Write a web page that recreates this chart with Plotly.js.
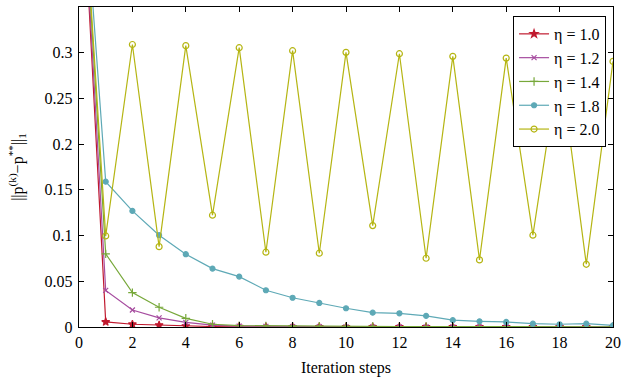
<!DOCTYPE html>
<html>
<head>
<meta charset="utf-8">
<script src="https://cdn.plot.ly/plotly-3.0.1.min.js"></script>
<style>
html,body{margin:0;padding:0;background:#fff;}
#chart{width:624px;height:380px;}
</style>
</head>
<body>
<div id="chart"></div>
<script>
const steps = [0,1,2,3,4,5,6,7,8,9,10,11,12,13,14,15,16,17,18,19,20];
const eta10 = [0.56,0.0055,0.003,0.002,0.001,0.0005,0.0003,0.0002,0.0001,0.0001,0,0,0,0,0,0,0,0,0,0,0];
const eta12 = [0.56,0.040,0.0186,0.010,0.005,0.002,0.001,0.0006,0.0004,0.0003,0.0002,0.0001,0.0001,0,0,0,0,0,0,0,0];
const eta14 = [0.56,0.080,0.0376,0.0216,0.0095,0.003,0.0015,0.0012,0.001,0.0008,0.0007,0.0006,0.0005,0.0005,0.0004,0.0004,0.0003,0.0003,0.0003,0.0002,0.0002];
const eta18 = [0.56,0.159,0.127,0.1004,0.0796,0.0639,0.0551,0.0402,0.032,0.0263,0.0205,0.0157,0.015,0.0122,0.0075,0.0062,0.0055,0.0036,0.003,0.0036,0.0018];
const eta20 = [0.56,0.0996,0.309,0.0879,0.3077,0.1223,0.3055,0.0818,0.3022,0.0807,0.3004,0.1109,0.2989,0.0752,0.296,0.0734,0.2941,0.1004,0.292,0.0686,0.2905];
const names = ['η = 1.0','η = 1.2','η = 1.4','η = 1.8','η = 2.0'];
const series = [eta10, eta12, eta14, eta18, eta20];
const colors = ['#c0192e','#a64c9f','#77a83a','#5ea9b6','#b5b513'];
const symbols = ['star','x-thin-open','cross-thin-open','circle','circle-open'];
const sizes = [6,5,6,5,6];

const traces = series.map((ys,i)=>({
  x: steps, y: ys, name: names[i], type:'scatter', mode:'lines+markers',
  line:{color:colors[i], width:1.2},
  marker:{symbol:symbols[i], size:sizes[i], color:colors[i], line:{color:colors[i], width:1.2}}
}));

const fontFam = '"Liberation Serif", "Times New Roman", serif';
const layout = {
  width:624, height:380,
  margin:{l:79, r:11, t:7, b:53},
  paper_bgcolor:'#fff', plot_bgcolor:'#fff',
  font:{family:fontFam, size:16, color:'#000'},
  xaxis:{range:[0,20], dtick:2, tick0:0, showgrid:false, zeroline:false,
    showline:true, linecolor:'#000', linewidth:1.3, mirror:'allticks',
    ticks:'inside', ticklen:5, tickcolor:'#000', tickfont:{family:fontFam, size:16},
    title:{text:'Iteration steps', font:{family:fontFam, size:16}, standoff:12}},
  yaxis:{range:[0,0.35], tickvals:[0,0.05,0.1,0.15,0.2,0.25,0.3], ticktext:['0','0.05','0.1','0.15','0.2','0.25','0.3'],
    showgrid:false, zeroline:false, ticklabelstandoff:2,
    showline:true, linecolor:'#000', linewidth:1.3, mirror:'allticks',
    ticks:'inside', ticklen:5, tickcolor:'#000', tickfont:{family:fontFam, size:16},
    title:{text:'||p<sup>(k)</sup>−p<sup>**</sup>||<sub>1</sub>', font:{family:fontFam, size:16}, standoff:17}},
  legend:{x:0.987, y:0.972, xanchor:'right', yanchor:'top', bgcolor:'#fff',
    bordercolor:'#000', borderwidth:1, font:{family:fontFam, size:16}, tracegroupgap:0},
  showlegend:true
};
Plotly.newPlot('chart', traces, layout, {displayModeBar:false, staticPlot:true});
</script>
</body>
</html>
